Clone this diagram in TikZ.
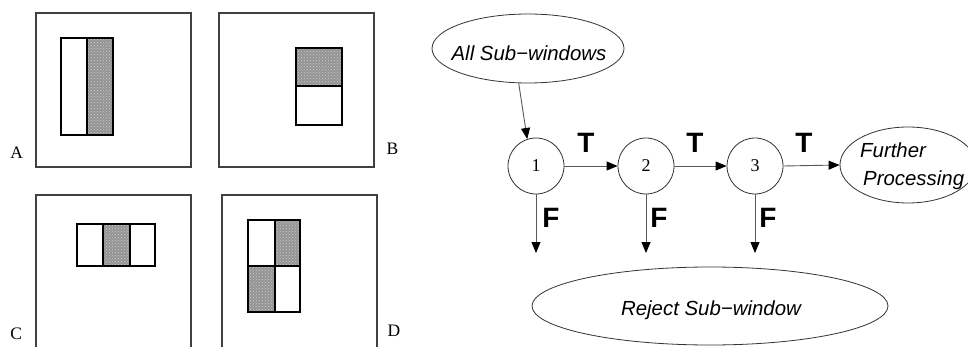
\documentclass[tikz,border=0pt]{standalone}
\usepackage{fontspec}
\setmainfont{Liberation Serif}
\setsansfont{Liberation Sans}
\usetikzlibrary{arrows.meta,shapes.geometric,patterns}
\begin{document}
\begin{tikzpicture}[x=1pt,y=-1pt,
  panel/.style={draw=black!75,line width=1.7pt},
  haar/.style={draw=black,line width=1.7pt},
  dark/.style={fill=black!42,postaction={pattern=crosshatch dots,pattern color=white!80!black}},
  stage/.style={circle,draw=black!80,line width=0.8pt,minimum size=56pt,inner sep=0pt,font=\fontsize{18}{18}\selectfont},
  oval/.style={ellipse,draw=black!80,line width=0.8pt,inner sep=0pt},
  txt/.style={font=\sffamily\itshape\fontsize{20.4}{28.5}\selectfont,inner sep=0pt},
  tf/.style={font=\sffamily\bfseries\fontsize{28}{28}\selectfont,inner sep=0pt},
  lett/.style={font=\fontsize{17.5}{17.5}\selectfont,inner sep=0pt},
  arr/.style={draw=black!65,line width=0.9pt,-{Triangle[length=11pt,width=9pt,color=black]}}
]
\useasboundingbox[fill=white] (0,0) rectangle (968,347);

% ---- Panel A ----
\draw[panel] (35.7,12.7) rectangle (190.7,166.7);
\path[dark] (86.7,38) rectangle (113.3,134.7);
\draw[haar] (60.7,38) rectangle (113.3,134.7);
\draw[haar] (86.7,38) -- (86.7,134.7);
\node[lett] (lA) at (16.7,152.5) {A};

% ---- Panel B ----
\draw[panel] (219,12.7) rectangle (374,166.7);
\path[dark] (296.3,47.7) rectangle (342,86.3);
\draw[haar] (296.3,47.7) rectangle (342,125.3);
\draw[haar] (296.3,86.3) -- (342,86.3);
\node[lett] (lB) at (392.5,149) {B};

% ---- Panel C ----
\draw[panel] (35.7,360) -- (35.7,195) -- (190.7,195) -- (190.7,360);
\path[dark] (103,224) rectangle (129.7,266);
\draw[haar] (77,224) rectangle (154.7,266);
\draw[haar] (103,224) -- (103,266);
\draw[haar] (129.7,224) -- (129.7,266);
\node[lett] (lC) at (16.3,334) {C};

% ---- Panel D ----
\draw[panel] (221.7,360) -- (221.7,195.3) -- (377.3,195.3) -- (377.3,360);
\path[dark] (274.7,220) rectangle (300,265.7);
\path[dark] (248,265.7) rectangle (274.7,311.7);
\draw[haar] (248,220) rectangle (300,311.7);
\draw[haar] (274.7,220) -- (274.7,311.7);
\draw[haar] (248,265.7) -- (300,265.7);
\node[lett] (lD) at (394,331) {D};

% ---- Cascade ----
\node[oval,minimum width=192pt,minimum height=69pt] (asw) at (528,48.5) {};
\node[txt] (aswt) at (529,53) {All Sub−windows};

\node[stage] (c1) at (536,166) {1};
\node[stage] (c2) at (646,166) {2};
\node[stage] (c3) at (755,166) {3};

\node[oval,minimum width=136pt,minimum height=76pt] (fp) at (908,165) {};
\node[txt,align=left,anchor=west] (fpt) at (860,166) {Further\\\hspace*{3pt}Processing};

\node[oval,minimum width=356pt,minimum height=78pt] (rej) at (710,306) {};
\node[txt] (rejt) at (711,310) {Reject Sub−window};

\draw[arr] (asw.255) -- (c1.108);
\draw[arr] (c1.east) -- (c2.west);
\draw[arr] (c2.east) -- (c3.west);
\draw[arr] (c3.east) -- (fp.west);

\coordinate (f1) at (536,253);
\coordinate (f2) at (646,253);
\coordinate (f3) at (755,253);
\draw[arr] (c1.south) -- (f1);
\draw[arr] (c2.south) -- (f2);
\draw[arr] (c3.south) -- (f3);

\node[tf] (t1) at (586,142.5) {T};
\node[tf] (t2) at (695,142.5) {T};
\node[tf] (t3) at (804,142.5) {T};
\node[tf] (ff1) at (551,218) {F};
\node[tf] (ff2) at (659,218) {F};
\node[tf] (ff3) at (768,218) {F};
\end{tikzpicture}
\end{document}
